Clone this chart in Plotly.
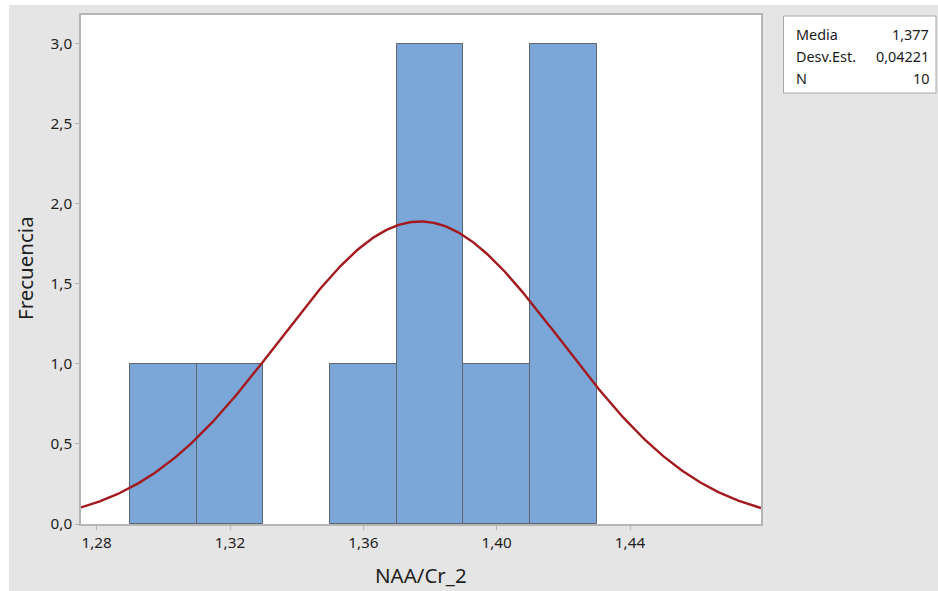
import numpy as np
import plotly.graph_objects as go

# Histogram bins (left edge, width) and counts
bin_start = 1.29
bin_width = 0.02
counts = [1, 1, 0, 1, 3, 1, 3]

# Summary statistics
media = 1.377
desv_est = 0.04221
n_obs = 10

x_ticks = [1.28, 1.32, 1.36, 1.40, 1.44]
y_ticks = [0.0, 0.5, 1.0, 1.5, 2.0, 2.5, 3.0]

x_range = [1.2753, 1.4793]
y_range = [0, 3.18]

centers = [bin_start + bin_width * (i + 0.5) for i in range(len(counts))]
outline_w = [1 if c > 0 else 0 for c in counts]

# Fitted normal curve scaled to the histogram counts
xs = np.linspace(x_range[0], x_range[1], 400)
ys = n_obs * bin_width / (desv_est * np.sqrt(2 * np.pi)) * np.exp(-0.5 * ((xs - media) / desv_est) ** 2)

fig = go.Figure()
fig.add_trace(go.Bar(
    x=centers, y=counts, width=bin_width,
    marker=dict(color="#7BA6D8", line=dict(color="#5f6670", width=outline_w)),
    hoverinfo="skip",
))
fig.add_trace(go.Scatter(
    x=xs, y=ys, mode="lines",
    line=dict(color="#A3191E", width=2.4),
    hoverinfo="skip",
))

W, H = 938, 591
L, R, T, B = 81, 177, 15, 67
pw, ph = W - L - R, H - T - B


def px_x(p):
    return (p - L) / pw


def px_y(p):
    return 1 - (p - T) / ph


shapes = [
    # grey outer panel
    dict(type="rect", xref="paper", yref="paper", layer="below",
         x0=px_x(9), x1=px_x(W + 5), y0=px_y(H + 5), y1=px_y(5),
         fillcolor="#E5E5E5", line=dict(width=0)),
    # white data region
    dict(type="rect", xref="paper", yref="paper", layer="below",
         x0=0, x1=1, y0=0, y1=1,
         fillcolor="#FFFFFF", line=dict(width=0)),
    # statistics box
    dict(type="rect", xref="paper", yref="paper",
         x0=px_x(783.5), x1=px_x(936), y0=px_y(93), y1=px_y(16),
         fillcolor="#FFFFFF", line=dict(color="#A8A8A8", width=1)),
]

family = "Noto Sans, Open Sans, sans-serif"
stats_font = dict(family=family, size=14.4, color="#1a1a1a")
tick_font = dict(family=family, size=15.3, color="#1f1f1f")
title_font = dict(family=family, size=20.5, color="#1f1f1f")

rows = [("Media", "1,377"), ("Desv.Est.", "0,04221"), ("N", str(n_obs))]
annotations = []
for i, (lab, val) in enumerate(rows):
    yc = px_y(34.5 + 22 * i)
    annotations.append(dict(xref="paper", yref="paper", x=px_x(794), y=yc,
                            text=lab, showarrow=False, xanchor="left", yanchor="middle",
                            font=stats_font))
    annotations.append(dict(xref="paper", yref="paper", x=px_x(931), y=yc,
                            text=val, showarrow=False, xanchor="right", yanchor="middle",
                            font=stats_font))

# Axis titles
annotations.append(dict(xref="paper", yref="paper", x=0.5, y=px_y(575),
                        text="NAA/Cr_2", showarrow=False, xanchor="center", yanchor="middle",
                        font=title_font))
annotations.append(dict(xref="paper", yref="paper", x=px_x(25), y=px_y(268),
                        text="Frecuencia", showarrow=False, xanchor="center", yanchor="middle",
                        textangle=-90, font=title_font))

fig.update_layout(
    width=W, height=H,
    margin=dict(l=L, r=R, t=T, b=B, pad=0),
    paper_bgcolor="#FFFFFF",
    plot_bgcolor="rgba(0,0,0,0)",
    showlegend=False,
    bargap=0,
    separators=",.",
    shapes=shapes,
    annotations=annotations,
    xaxis=dict(
        range=x_range, tickvals=x_ticks, tickformat=".2f",
        showgrid=False, zeroline=False,
        showline=True, mirror=True, linecolor="#B5B5B5", linewidth=1.5,
        ticks="outside", ticklen=4, tickcolor="#B5B5B5", tickwidth=1,
        tickfont=tick_font,
    ),
    yaxis=dict(
        range=y_range, tickvals=y_ticks, tickformat=".1f",
        showgrid=False, zeroline=False,
        showline=True, mirror=True, linecolor="#B5B5B5", linewidth=1.5,
        ticks="outside", ticklen=4, tickcolor="#B5B5B5", tickwidth=1,
        tickfont=tick_font,
    ),
)

fig.write_html("out.html")
